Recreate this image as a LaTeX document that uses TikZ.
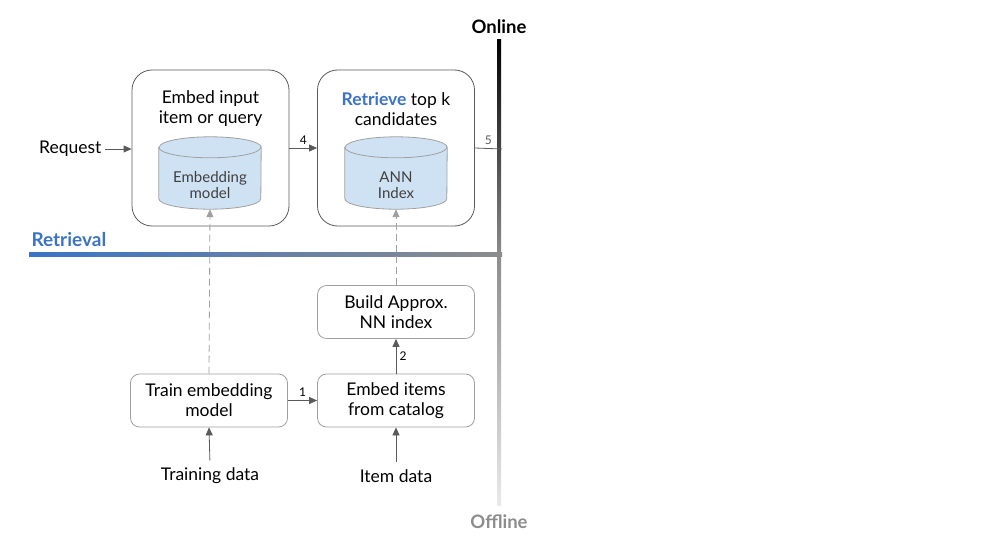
\documentclass[tikz,border=0pt]{standalone}
\usepackage{fontspec}
\setmainfont{Lato}
\usetikzlibrary{arrows.meta}
\definecolor{retblue}{HTML}{3B73C5}
\definecolor{cylfill}{HTML}{CFE2F3}
\definecolor{edgegray}{HTML}{5A5A5A}
\definecolor{boxgray}{HTML}{A0A0A0}
\definecolor{midgray}{HTML}{8C8C8C}
\definecolor{lowgray}{HTML}{EAEAEA}

\tikzset{
  bigbox/.style={draw=edgegray, line width=0.8pt, rounded corners=20pt,
    minimum width=157pt, minimum height=156pt},
  smallbox/.style={draw=boxgray, line width=0.8pt, rounded corners=9pt,
    minimum width=157pt, minimum height=53pt, align=center,
    font=\fontsize{17.5}{20}\selectfont},
  dbspot/.style={minimum width=102pt, minimum height=72pt, inner sep=0pt},
  dbline/.style={draw=boxgray, line width=0.8pt},
  txt/.style={align=center, font=\fontsize{17.5}{20}\selectfont},
  small/.style={align=center, font=\fontsize{15}{16}\selectfont, text=black!75},
  num/.style={font=\fontsize{12}{13}\selectfont},
  head/.style={font=\bfseries\fontsize{18.5}{20}\selectfont},
  flow/.style={-{Triangle[length=8pt,width=7pt]}, draw=edgegray, line width=0.8pt},
  feed/.style={flow, draw=boxgray, dash pattern=on 7pt off 4pt}
}

% --- a drum drawn over a named node: #1 node name
\newcommand{\drum}[1]{%
  \draw[dbline, fill=cylfill] ([yshift=-10.5pt]#1.north west)
    -- ([yshift=10.5pt]#1.south west)
    arc[start angle=180, end angle=360, x radius=51pt, y radius=10.5pt]
    -- ([yshift=-10.5pt]#1.north east)
    arc[start angle=0, end angle=180, x radius=51pt, y radius=10.5pt] -- cycle;
  \draw[dbline] ([yshift=-10.5pt]#1.north west)
    arc[start angle=180, end angle=360, x radius=51pt, y radius=10.5pt];
}

\begin{document}
\begin{tikzpicture}[x=1pt, y=-1pt]
\useasboundingbox (0,0) rectangle (1000,559);

% --- online / offline split ---
\shade[top color=black, bottom color=midgray] (497,40) rectangle (501,255);
\shade[top color=midgray, bottom color=lowgray] (497,255) rectangle (501,505);
\shade[left color=retblue, right color=midgray] (29,252) rectangle (502,256);
\node[head] (online) at (499,27) {Online};
\node[head, text=midgray] (offline) at (499,522) {Offline};
\node[head, anchor=west, font=\bfseries\fontsize{19}{20}\selectfont, text=retblue] (retrieval) at (28,240) {Retrieval};

% --- online boxes ---
\node[bigbox] (embedbox) at (210.5,148) {};
\node[txt] (embedtxt) at (210.5,109) {Embed input\\item or query};
\node[dbspot] (embcyl) at (210,173) {};
\drum{embcyl}
\node[small] (embcyltxt) at (210,185) {Embedding\\model};

\node[bigbox] (retbox) at (396,148) {};
\node[txt] (rettxt) at (396,109) {\textcolor{retblue}{\bfseries Retrieve} top k\\candidates};
\node[dbspot] (anncyl) at (396,173) {};
\drum{anncyl}
\node[small] (anncyltxt) at (396,185) {ANN\\Index};

\node[txt, anchor=east] (request) at (105,149) {Request};
\coordinate (out) at (502,149);

\draw[flow] (request) -- (embedbox.west |- request);
\draw[flow] (embedbox.east) -- node[num, above] {4} (retbox.west);
\draw[edgegray, line width=0.8pt] (retbox.east) -- node[num, above] {5} (out);

% --- offline boxes ---
\node[smallbox] (build) at (396,312) {Build Approx.\\NN index};
\node[smallbox] (train) at (209,400.5) {Train embedding\\model};
\node[smallbox] (embitems) at (396,400.5) {Embed items\\from catalog};
\node[txt] (traindata) at (210,476) {Training data};
\node[txt] (itemdata) at (396,476) {Item data};

\draw[flow] (train.east) -- node[num, above] {1} (embitems.west);
\draw[flow] (embitems.north) -- node[num, right] {2} (build.south);
\draw[flow, shorten <=4pt] (traindata.north) -- (train.south);
\draw[flow, shorten <=4pt] (itemdata.north) -- (embitems.south);
\draw[feed] (train.north) -- (embcyl.south);
\draw[feed] (build.north) -- (anncyl.south);

\end{tikzpicture}
\end{document}
